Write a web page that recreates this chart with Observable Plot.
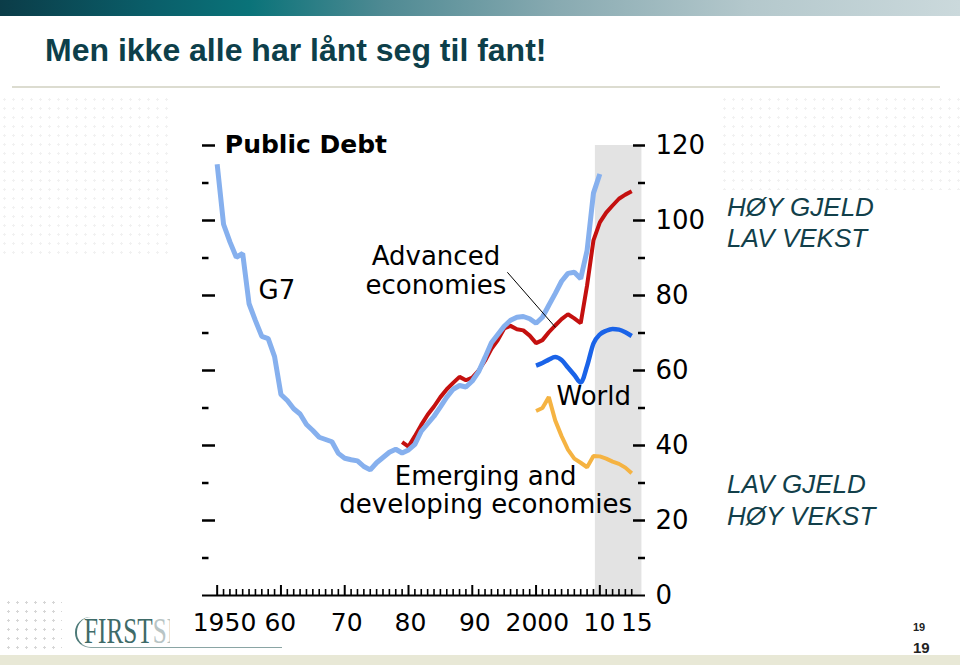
<!DOCTYPE html>
<html>
<head>
<meta charset="utf-8">
<script src="https://cdn.jsdelivr.net/npm/d3@7"></script>
<script src="https://cdn.jsdelivr.net/npm/@observablehq/plot@0.6"></script>
<style>
  html, body { margin: 0; padding: 0; width: 960px; height: 665px; overflow: hidden; background: #fff; }
  body { position: relative; font-family: "Liberation Sans", Arial, sans-serif; }
  #banner { position: absolute; left: 0; top: 0; width: 960px; height: 16px;
    background: linear-gradient(90deg, #0b3c48 0%, #0a5f6a 16%, #0a7379 26%, #4f8a93 40%, #88aab1 58%, #b4c8cc 78%, #cbd9dc 100%); }
  #title { position: absolute; left: 45px; top: 34px; font: bold 32px/32px "Liberation Sans", Arial, sans-serif; color: #0d3f4a; white-space: nowrap; }
  #rule { position: absolute; left: 12px; top: 86px; width: 928px; height: 2px; background: #dcdcd0; }
  #band { position: absolute; left: 0; top: 655px; width: 960px; height: 10px; background: #e8e8d6; }
  .dots { position: absolute; background-image: radial-gradient(circle, #d6d6d6 1px, transparent 1.3px); background-size: 9px 9px; }
  .fdots { position: absolute; background-image: radial-gradient(circle, #f1f1f1 1px, transparent 1.3px); background-size: 9px 9px; }
  #logoArc { position: absolute; left: 75px; top: 617px; width: 205px; height: 30px; border-left: 2px solid #4d7a78; border-bottom: 1px solid #8aa5a4; border-top-left-radius: 16px 15px; border-bottom-left-radius: 16px 15px; }
  #logo { position: absolute; left: 84px; top: 613px; font: 36px/36px "Liberation Serif", "DejaVu Serif", serif; transform: scaleX(0.7); transform-origin: 0 0; white-space: nowrap; }
  #logo .a { color: #3f6b68; } #logo .b { color: #b9c5c5; }
  #chart { position: absolute; left: 170px; top: 95px; }
  .note { position: absolute; left: 727px; font: italic 26px "Liberation Sans", Arial, sans-serif; color: #123f4a; white-space: nowrap; }
  #note1 { top: 192px; line-height: 31px; }
  #note2 { top: 468px; line-height: 32px; }
  .pg { position: absolute; left: 913px; font-family: "Liberation Sans", Arial, sans-serif; font-weight: bold; color: #222; }
  #pg1 { top: 622px; font-size: 11px; line-height: 11px; }
  #pg2 { top: 640px; font-size: 15px; line-height: 15px; }
</style>
</head>
<body>
<div id="banner"></div>
<div id="title">Men ikke alle har lånt seg til fant!</div>
<div id="rule"></div>
<div class="fdots" style="left:0;top:95px;width:170px;height:165px"></div>
<div class="fdots" style="left:720px;top:95px;width:240px;height:95px"></div>
<div class="dots" style="left:4px;top:598px;width:58px;height:54px"></div>
<div id="logoArc"></div>
<div id="logo"><span class="a">FIRST</span><span class="b">SE</span></div>
<div id="band"></div>
<div id="chart"></div>
<div class="note" id="note1">HØY GJELD<br>LAV VEKST</div>
<div class="note" id="note2">LAV GJELD<br>HØY VEKST</div>
<div class="pg" id="pg1">19</div>
<div class="pg" id="pg2">19</div>
<script>
// ---- Data ----
const g7Years = [1950,1951,1952,1953,1954,1955,1956,1957,1958,1959,1960,1961,1962,1963,1964,1965,1966,1967,1968,1969,
  1970,1971,1972,1973,1974,1975,1976,1977,1978,1979,1980,1981,1982,1983,1984,1985,1986,1987,1988,1989,
  1990,1991,1992,1993,1994,1995,1996,1997,1998,1999,2000,2001,2002,2003,2004,2005,2006,2007,2008,2009,2010];
const g7Values = [115,99,94.3,90.2,91.2,77.8,73.3,69.1,68.5,63.7,53.6,52,49.8,48.4,45.6,44,42.2,41.6,41,37.9,
  36.6,36.2,35.9,34.4,33.5,35.4,36.8,38.2,39,38,38.8,40.3,43.8,45.8,47.8,50.3,52.9,55,56,55.6,
  57.2,59.7,63.5,67.4,69.6,71.8,73.4,74.2,74.4,73.8,72.6,74.2,77.4,80.5,83.8,85.9,86.2,84.5,92,107.3,112.4];

const advYears = [1979,1980,1981,1982,1983,1984,1985,1986,1987,1988,1989,1990,1991,1992,1993,1994,1995,1996,1997,
  1998,1999,2000,2001,2002,2003,2004,2005,2006,2007,2008,2009,2010,2011,2012,2013,2014,2015];
const advValues = [40.9,39.7,42.5,45.5,48.2,50.4,52.9,55,56.7,58.3,57.4,58.1,60,62.6,65.8,68.1,71.2,71.9,71,
  70.7,69.3,67.3,68.1,70.2,72,73.7,75,73.9,72.6,82.7,94.7,99.5,102.1,104,105.8,106.9,107.8];

const recentYears = [2000,2001,2002,2003,2004,2005,2006,2007,2008,2009,2010,2011,2012,2013,2014,2015];
const worldValues = [61.3,62,62.9,63.6,62.8,60.8,58.8,56.8,61.2,67.2,69.6,70.6,71.1,70.9,70.2,69.2];
const emergingValues = [49.2,50,52.9,46.7,42.5,38.9,36.5,35.4,34.2,37.2,37.1,36.5,35.7,35.1,34.1,32.6];

const shadePeriod = [2009.3, 2016.6];           // shaded (projection) band, in years
const yLabelTicks = [0, 20, 40, 60, 80, 100, 120];
const yMajorTicks = [20, 40, 60, 80, 100, 120];
const yMinorTicks = [10, 30, 50, 70, 90, 110];
const xDecades = [1950, 1960, 1970, 1980, 1990, 2000, 2010];
const xYears = [1951,1952,1953,1954,1955,1956,1957,1958,1959,1961,1962,1963,1964,1965,1966,1967,1968,1969,
  1971,1972,1973,1974,1975,1976,1977,1978,1979,1981,1982,1983,1984,1985,1986,1987,1988,1989,
  1991,1992,1993,1994,1995,1996,1997,1998,1999,2001,2002,2003,2004,2005,2006,2007,2008,2009,
  2011,2012,2013,2014,2015];
const xLabelTexts = ["1950", "60", "70", "80", "90", "2000", "10", "15"];
const xLabelPositions = [1951.15, 1959.9, 1970.3, 1980.3, 1990.4, 2000.2, 2009.95, 2015.8]; // label centres, in years

const startLabels = [
  {x: 1956.5, y: 79.1, text: "G7"},
  {x: 2003.2, y: 50.7, text: "World"}
];
const middleLabels = [
  {x: 1984.3, y: 80.45, text: "Advanced\neconomies"},
  {x: 1992.1, y: 21.9, text: "Emerging and\ndeveloping economies"}
];
const chartTitle = [{x: 1951.2, y: 118.1, text: "Public Debt"}];
const leader = [{x1: 1995.5, y1: 86.2, x2: 2003.05, y2: 71.5}];

// ---- Build ----
const toRows = (years, vals) => years.map((yr, i) => ({year: yr, value: vals[i]}));
const g7 = toRows(g7Years, g7Values);
const adv = toRows(advYears, advValues);
const world = toRows(recentYears, worldValues);
const emerging = toRows(recentYears, emergingValues);
const xLabels = xLabelTexts.map((t, i) => ({x: xLabelPositions[i], text: t}));

const W = 550, H = 550, mL = 32, mR = 75, mT = 50, mB = 50;
const plotW = W - mL - mR, plotH = H - mT - mB;

const chart = Plot.plot({
  width: W, height: H,
  marginLeft: mL, marginRight: mR, marginTop: mT, marginBottom: mB,
  x: {domain: [1947.7, 2017.16], axis: null},
  y: {domain: [0, 120], axis: null},
  style: {fontFamily: "DejaVu Sans, sans-serif", background: "#fff", color: "#000", overflow: "visible"},
  marks: [
    Plot.rect([{x1: shadePeriod[0], x2: shadePeriod[1], y1: 0, y2: 120}], {x1: "x1", x2: "x2", y1: "y1", y2: "y2", fill: "#e3e3e3"}),
    // left ticks (inward)
    Plot.ruleY(yMajorTicks, {y: d => d, insetRight: plotW - 13, strokeWidth: 2.5, stroke: "#000"}),
    Plot.ruleY(yMinorTicks, {y: d => d, insetRight: plotW - 6.5, strokeWidth: 2.5, stroke: "#000"}),
    // right ticks (inward)
    Plot.ruleY(yMajorTicks, {y: d => d, insetLeft: plotW - 12, strokeWidth: 2.5, stroke: "#000"}),
    Plot.ruleY(yMinorTicks, {y: d => d, insetLeft: plotW - 7, strokeWidth: 2.5, stroke: "#000"}),
    // x ticks
    Plot.ruleX(xDecades, {x: d => d, insetTop: plotH - 10, strokeWidth: 2, stroke: "#000"}),
    Plot.ruleX(xYears, {x: d => d, insetTop: plotH - 6, strokeWidth: 1.6, stroke: "#000"}),
    Plot.ruleY([0], {strokeWidth: 2, stroke: "#000"}),
    Plot.axisY({anchor: "right", ticks: yLabelTicks, tickSize: 0, tickPadding: 10, fontSize: 26, label: null}),
    Plot.text(xLabels, {x: "x", text: "text", frameAnchor: "bottom", lineAnchor: "top", dy: 18, fontSize: 25, fill: "#000"}),
    // series
    Plot.line(adv, {x: "year", y: "value", stroke: "#c4100f", strokeWidth: 4, strokeLinejoin: "miter", strokeLinecap: "butt"}),
    Plot.line(g7, {x: "year", y: "value", stroke: "#86b0ee", strokeWidth: 5, strokeLinejoin: "miter", strokeLinecap: "butt"}),
    Plot.line(world, {x: "year", y: "value", stroke: "#1a63e8", strokeWidth: 4.5, curve: "monotone-x", strokeLinecap: "butt"}),
    Plot.line(emerging, {x: "year", y: "value", stroke: "#f5b342", strokeWidth: 4, strokeLinejoin: "miter", strokeLinecap: "butt"}),
    Plot.link(leader, {x1: "x1", y1: "y1", x2: "x2", y2: "y2", stroke: "#000", strokeWidth: 1}),
    Plot.text(startLabels, {x: "x", y: "y", text: "text", textAnchor: "start", lineAnchor: "bottom", fontSize: 26, fill: "#000"}),
    Plot.text(middleLabels, {x: "x", y: "y", text: "text", textAnchor: "middle", lineAnchor: "bottom", fontSize: 26, lineHeight: 1.09, fill: "#000"}),
    Plot.text(chartTitle, {x: "x", y: "y", text: "text", textAnchor: "start", lineAnchor: "bottom", fontSize: 25, fontWeight: "bold", fill: "#000"})
  ]
});
document.getElementById("chart").appendChild(chart);
</script>
</body>
</html>
